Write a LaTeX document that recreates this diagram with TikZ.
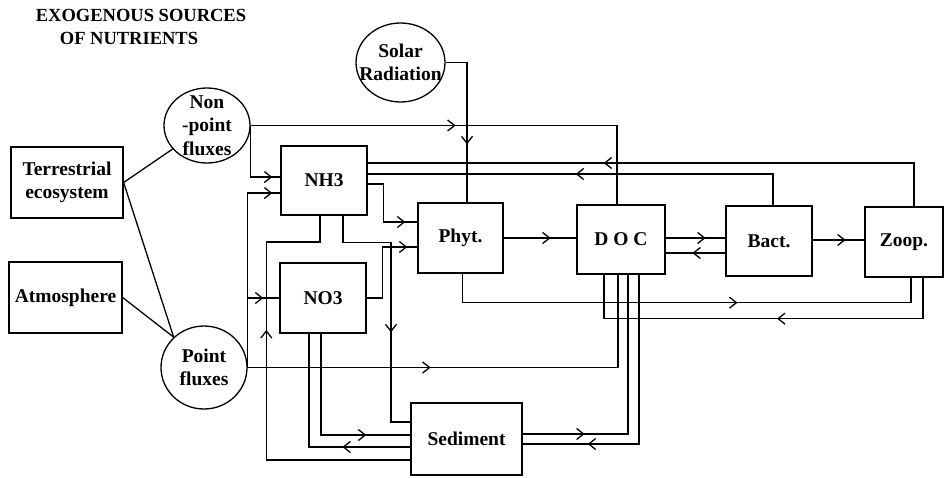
\documentclass[tikz,border=0pt]{standalone}
\usepackage{fontspec}
\setmainfont{Liberation Serif}
\usetikzlibrary{arrows.meta,decorations.markings,shapes.geometric}

\begin{document}
\begin{tikzpicture}[
    x=1pt, y=-1pt,
    font=\bfseries\fontsize{19.5}{23.5}\selectfont,
    line width=1.3pt,
    blk/.style={draw, minimum width=86pt, minimum height=70pt,
                align=center, inner sep=0pt},
    src/.style={ellipse, draw, align=center, inner sep=0pt},
    fl/.style={postaction={decorate, decoration={markings,
        mark=at position #1 with {\arrow{Straight Barb[length=7pt,width=11pt]}}}}}
]
\useasboundingbox (0,0) rectangle (945,477);

\node[font=\bfseries\fontsize{18.5}{23}\selectfont] (ttl1) at (141,15)
    {EXOGENOUS SOURCES};
\node[font=\bfseries\fontsize{18.5}{23}\selectfont] (ttl2) at (129,38)
    {OF NUTRIENTS};

\node[blk, minimum width=112pt, minimum height=71pt] (terr) at (67,182.5)
    {Terrestrial\\ecosystem};
\node[blk, minimum width=113pt, minimum height=71pt] (atmo) at (65.5,297.5)
    {Atmosphere};
\node[src, minimum width=86pt, minimum height=75pt, inner sep=-8pt] (nonpt)
    at (207,125.5) {Non\\-point\\fluxes};
\node[src, minimum width=86pt, minimum height=83pt] (point) at (204,367.5)
    {Point\\fluxes};
\node[src, minimum width=89pt, minimum height=79pt, inner xsep=-11pt] (solar)
    at (400.5,62.5) {Solar\\Radiation};

\node[blk, minimum height=69pt] (nh3) at (324,180.5) {NH3};
\node[blk] (no3) at (323,298) {NO3};
\node[blk, minimum width=85pt] (phyt) at (460.5,238) {Phyt.};
\node[blk, minimum width=88pt, minimum height=69pt] (doc) at (621,239.5) {D O C};
\node[blk] (bact) at (769,241) {Bact.};
\node[blk, minimum width=78pt] (zoop) at (904,242) {Zoop.};
\node[blk, minimum width=111pt, minimum height=72pt] (sed) at (466.5,439)
    {Sediment};

% exogenous inputs
\draw (terr.east) -- (nonpt);
\draw (terr.east) -- (point.135);
\draw (atmo.east) -- (point.135);
\draw[fl=-58pt] (solar.east) -| ([xshift=6.5pt]phyt.north);
\draw[fl=205pt] (nonpt.east) -| ([xshift=-4pt]doc.north);
\draw[fl=-8pt] (nonpt.east) |- ([yshift=3.5pt]nh3.west);
\draw[fl=-8pt] (point.east) |- ([yshift=-12.5pt]nh3.west);
\draw[fl=-16pt] (point.east) |- ([yshift=0pt]no3.west);
\draw[fl=183pt] (point.east) -| ([xshift=-3pt]doc.south);

% nutrients to phytoplankton
\draw[fl=-12pt] ([yshift=-3.5pt]nh3.east) -- ++(16,0) |- ([yshift=16pt]phyt.west);
\draw[fl=-10pt] (no3.east) -- ++(16,0) |- ([yshift=-9pt]phyt.west);

% food web
\draw[fl=47pt] (phyt.east) -- (phyt.east -| doc.west);
\draw[fl=40pt] ([yshift=1.5pt]doc.east) -- ([yshift=1.5pt]doc.east -| bact.west);
\draw[fl=33pt] ([yshift=-13.5pt]doc.east -| bact.west) -- ([yshift=-13.5pt]doc.east);
\draw[fl=33pt] ([yshift=1pt]bact.east) -- ([yshift=1pt]bact.east -| zoop.west);
\draw[fl=304pt] ([xshift=2pt]phyt.south) -- ++(0,29) -| ([xshift=7pt]zoop.south);
\draw[fl=187pt] ([xshift=19pt]zoop.south) -- ++(0,41) -| ([xshift=-17pt]doc.south);

% regeneration
\draw[fl=-236pt] ([xshift=10pt]zoop.north) |- ([yshift=17.5pt]nh3.east);
\draw[fl=-208pt] ([xshift=4pt]bact.north) |- ([yshift=6.5pt]nh3.east);

% sediment exchange
\draw[fl=-109pt] ([xshift=19pt]nh3.south) -- ++(0,27) -- ++(48,0)
    |- ([yshift=17pt]sed.west);
\draw[fl=274pt] ([yshift=-21pt]sed.west) -- ++(-144,0) -- ++(0,-218)
    -| ([xshift=-4pt]nh3.south);
\draw[fl=-44pt] ([xshift=-2pt]no3.south) |- ([yshift=4pt]sed.west);
\draw[fl=68pt] ([yshift=-8pt]sed.west) -| ([xshift=-14pt]no3.south);
\draw[fl=62pt] ([yshift=5pt]sed.east) -| ([xshift=7pt]doc.south);
\draw[fl=-65pt] ([xshift=18pt]doc.south) |- ([yshift=-5pt]sed.east);
\end{tikzpicture}
\end{document}
